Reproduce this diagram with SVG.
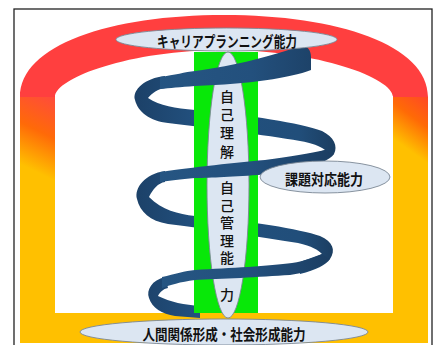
<svg xmlns="http://www.w3.org/2000/svg" width="435" height="345" viewBox="0 0 435 345">
  <defs>
    <linearGradient id="pillarL" gradientUnits="userSpaceOnUse" x1="55" y1="97" x2="22" y2="165">
      <stop offset="0" stop-color="#ff4b3c"/>
      <stop offset="0.5" stop-color="#ff6a08"/>
      <stop offset="1" stop-color="#ffc000"/>
    </linearGradient>
    <linearGradient id="pillarR" gradientUnits="userSpaceOnUse" x1="426" y1="97" x2="395" y2="140">
      <stop offset="0" stop-color="#ff4a24"/>
      <stop offset="0.45" stop-color="#ff6a06"/>
      <stop offset="1" stop-color="#ffc000"/>
    </linearGradient>
    <linearGradient id="ribbonFront" gradientUnits="userSpaceOnUse" x1="150" y1="0" x2="335" y2="0">
      <stop offset="0" stop-color="#265683"/>
      <stop offset="0.55" stop-color="#23507d"/>
      <stop offset="1" stop-color="#1b3d61"/>
    </linearGradient>
    <linearGradient id="ribbonBack" gradientUnits="userSpaceOnUse" x1="135" y1="0" x2="340" y2="0">
      <stop offset="0" stop-color="#1c4168"/>
      <stop offset="0.3" stop-color="#22507e"/>
      <stop offset="0.8" stop-color="#214e7a"/>
      <stop offset="1" stop-color="#1a3b5d"/>
    </linearGradient>
    <style>
      .label { fill: #dce6f2; stroke: #7a8794; stroke-width: 0.9; }
      .txt { font-family: "Noto Sans CJK JP", "Noto Sans", sans-serif; fill: #111; text-anchor: middle; dominant-baseline: central; }
      .bold { font-weight: 700; }
      .vt { font-family: "Noto Sans CJK JP", "Noto Sans", sans-serif; fill: #111; font-size: 14px; font-weight: 500; writing-mode: vertical-rl; text-anchor: middle; }
      .back { fill: url(#ribbonBack); }
      .front { fill: url(#ribbonFront); }
    </style>
  </defs>

  <!-- outer frame -->
  <rect x="14" y="9" width="418" height="350" fill="#fff" stroke="#222" stroke-width="1.3"/>

  <!-- arch: red top, gradient pillars, yellow floor -->
  <g id="arch">
    <path d="M20,97 C20,45 110,15 224,15 C338,15 428,45 428,97 L393,97 C393,78 318,50 224,50 C130,50 55,78 55,97 Z" fill="#ff3f3f"/>
    <rect x="20" y="97" width="35" height="246" fill="url(#pillarL)"/>
    <rect x="393" y="97" width="35" height="246" fill="url(#pillarR)"/>
    <rect x="20" y="313" width="408" height="30" fill="#ffc000"/>
    <rect x="55" y="96" width="338" height="217" fill="#fff"/>
  </g>

  <!-- spiral ribbon: parts running behind the column -->
  <g id="spiral-back">
    <path class="back" d="M165,76 C145,78 132,90 135,100 C138,112 150,121 168,123 C210,128 265,135 300,141 C312,143 320,146 325,150 L300,158 L300,169 C318,165 330,160 334,154 C338,146 334,137 322,131 C300,123 250,115 195,110 C175,108 160,106 148,98 C152,93 158,89 165,88 Z"/>
    <path class="back" d="M165,171 C145,174 134,188 137,199 C140,212 150,221 168,224 C210,229 260,237 298,243 C312,246 318,250 322,254 L300,262 L300,274 C316,270 326,265 330,259 C336,250 333,242 320,236 C300,229 250,221 195,216 C178,214 162,210 149,197 C153,189 158,183 165,182 Z"/>
    <path class="back" d="M165,277 C152,280 146,290 149,298 C152,308 162,314 175,316 L200,318 L200,306 C185,305 170,302 158,296 C160,292 163,289 168,288 Z"/>
  </g>

  <!-- green column -->
  <rect id="column" x="194" y="52" width="64" height="261" fill="#08e808"/>

  <!-- self-understanding / self-management column label -->
  <g id="node-self">
    <ellipse class="label" cx="228" cy="185" rx="21" ry="133"/>
    <text class="vt" x="227" y="126" letter-spacing="4.3">自己理解</text>
    <text class="vt" x="227" y="224.5" letter-spacing="3.5">自己管理能</text>
    <text class="vt" x="227" y="295">力</text>
  </g>

  <!-- spiral ribbon: parts running in front of the column -->
  <g id="spiral-front">
    <path class="front" d="M160,77 C175,75 185,72 195,71 C235,66 275,55 300,46 C307,45 311,50 311,57 L311,70 C290,78 250,84 195,86 C180,87 170,88 160,89 Z"/>
    <path class="front" d="M160,172 C180,169 230,163 265,160 C290,157 310,153 325,150 L334,154 C320,164 290,172 258,175 C230,177 205,178 195,178 C180,179 170,181 160,182 Z"/>
    <path class="front" d="M162,277 C175,274 185,271 195,270 C230,268 270,266 292,263 C305,261 315,257 322,254 L330,259 C320,268 305,273 290,275 C260,277 220,279 195,280 C180,282 170,285 162,288 Z"/>
  </g>

  <g id="node-career">
    <ellipse class="label" cx="226.5" cy="39.5" rx="110.5" ry="11.5"/>
    <text class="txt bold" x="227" y="40" font-size="15" textLength="140" lengthAdjust="spacingAndGlyphs">キャリアプランニング能力</text>
  </g>

  <g id="node-task">
    <ellipse class="label" cx="325" cy="177" rx="65" ry="16"/>
    <text class="txt bold" x="324" y="178" font-size="14.5" textLength="78" lengthAdjust="spacingAndGlyphs">課題対応能力</text>
  </g>

  <g id="node-social">
    <ellipse class="label" cx="224" cy="332" rx="144" ry="13"/>
    <text class="txt bold" x="224" y="333" font-size="15" textLength="163" lengthAdjust="spacingAndGlyphs">人間関係形成・社会形成能力</text>
  </g>
</svg>
